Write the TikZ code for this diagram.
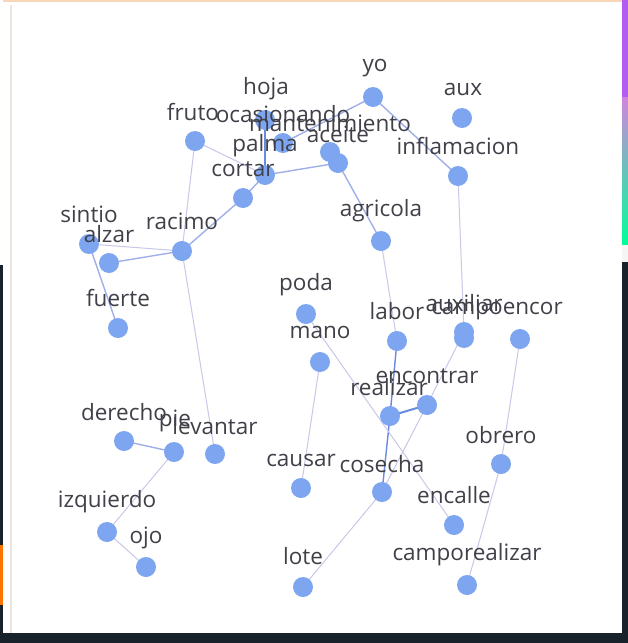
\documentclass[tikz,border=0pt]{standalone}
\usepackage{fontspec}
\setmainfont{Open Sans}
\definecolor{bgdark}{HTML}{17222B}
\definecolor{nodeblue}{RGB}{125,165,240}
\definecolor{edgelight}{RGB}{200,200,232}
\definecolor{edgemid}{RGB}{160,175,232}
\definecolor{edgedark}{RGB}{105,138,228}
\definecolor{labelgray}{HTML}{404049}
\definecolor{purp}{HTML}{B35CF2}
\definecolor{topline}{HTML}{F8D6B8}
\definecolor{leftline}{HTML}{EEE5DF}
\tikzset{
  vert/.style={circle,fill=nodeblue,inner sep=0pt,minimum size=20pt},
  lbl/.style={text=labelgray,font=\fontsize{22.5}{22.5}\selectfont,inner sep=0pt},
  elight/.style={draw=edgelight,line width=1pt},
  emid/.style={draw=edgemid,line width=1.4pt},
  edark/.style={draw=edgedark,line width=2pt},
}
\begin{document}
\begin{tikzpicture}[x=1pt,y=-1pt]
\useasboundingbox (0,0) rectangle (628,643);
% background
\fill[bgdark] (0,0) rectangle (628,643);
\fill[white] (0,0) rectangle (3,265);
\fill[orange!90!red] (0,545) rectangle (3,605);
\fill[purp] (622,0) rectangle (628,97);
\shade[top color=purp!60!pink,bottom color=green!40!cyan] (622,97) rectangle (628,245);
\fill[white!92!gray] (622,245) rectangle (628,262);
\fill[white] (3,0) rectangle (622,633);
\fill[topline] (3,0) rectangle (622,2);
\fill[leftline] (10,5) rectangle (12,633);
% vertices
\coordinate (yo) at (373,97);
\coordinate (aux) at (462,118);
\coordinate (hoja) at (265,120);
\coordinate (fruto) at (195,141);
\coordinate (ocasionando) at (283,143);
\coordinate (mantenimiento) at (330,152);
\coordinate (aceite) at (338,163);
\coordinate (palma) at (265,175);
\coordinate (cortar) at (243,198);
\coordinate (inflamacion) at (458,176);
\coordinate (agricola) at (381,241);
\coordinate (sintio) at (89,244);
\coordinate (alzar) at (109,263);
\coordinate (racimo) at (182,251);
\coordinate (fuerte) at (118,328);
\coordinate (poda) at (306,314);
\coordinate (mano) at (320,362);
\coordinate (labor) at (397,341);
\coordinate (auxiliar) at (464,332);
\coordinate (campo) at (464,338);
\coordinate (encor) at (520,339);
\coordinate (encontrar) at (427,405);
\coordinate (realizar) at (390,416);
\coordinate (derecho) at (124,441);
\coordinate (pie) at (174,452);
\coordinate (levantar) at (215,454);
\coordinate (obrero) at (501,464);
\coordinate (causar) at (301,488);
\coordinate (cosecha) at (382,492);
\coordinate (encalle) at (454,525);
\coordinate (izquierdo) at (107,532);
\coordinate (ojo) at (146,567);
\coordinate (lote) at (303,587);
\coordinate (camporealizar) at (467,585);
% edges
\draw[elight] (fruto) -- (palma);
\draw[elight] (fruto) -- (racimo);
\draw[elight] (racimo) -- (levantar);
\draw[emid] (racimo) -- (cortar);
\draw[emid] (cortar) -- (palma);
\draw[emid] (palma) -- (aceite);
\draw[edark] (hoja) -- (palma);
\draw[emid] (ocasionando) -- (yo);
\draw[emid] (yo) -- (inflamacion);
\draw[emid] (aceite) -- (agricola);
\draw[elight] (agricola) -- (labor);
\draw[edark,line width=1.4pt] (labor) -- (realizar);
\draw[edark,line width=1.4pt] (realizar) -- (cosecha);
\draw[edark] (realizar) -- (encontrar);
\draw[elight] (encontrar) -- (auxiliar);
\draw[elight] (encontrar) -- (cosecha);
\draw[elight] (inflamacion) -- (auxiliar);
\draw[elight] (poda) -- (encalle);
\draw[elight] (mano) -- (causar);
\draw[elight] (cosecha) -- (lote);
\draw[elight] (encor) -- (obrero);
\draw[elight] (obrero) -- (camporealizar);
\draw[emid] (derecho) -- (pie);
\draw[elight] (pie) -- (izquierdo);
\draw[elight] (izquierdo) -- (ojo);
\draw[elight] (sintio) -- (racimo);
\draw[emid] (alzar) -- (racimo);
\draw[emid] (sintio) -- (fuerte);
% nodes
\foreach \n in {yo,aux,hoja,fruto,ocasionando,mantenimiento,aceite,palma,cortar,inflamacion,agricola,sintio,alzar,racimo,fuerte,poda,mano,labor,auxiliar,campo,encor,encontrar,realizar,derecho,pie,levantar,obrero,causar,cosecha,encalle,izquierdo,ojo,lote,camporealizar}
  \node[vert] (v-\n) at (\n) {};
% labels
\node[lbl] (l-yo) at (375,68) {yo};
\node[lbl] (l-aux) at (463,89) {aux};
\node[lbl] (l-hoja) at (266,89) {hoja};
\node[lbl] (l-fruto) at (193,112) {fruto};
\node[lbl] (l-ocasionando) at (283,114) {ocasionando};
\node[lbl] (l-mantenimiento) at (330,123) {mantenimiento};
\node[lbl] (l-aceite) at (338,134) {aceite};
\node[lbl] (l-palma) at (265,146) {palma};
\node[lbl] (l-cortar) at (243,169) {cortar};
\node[lbl] (l-inflamacion) at (458,146) {inflamacion};
\node[lbl] (l-agricola) at (381,211) {agricola};
\node[lbl] (l-sintio) at (89,214) {sintio};
\node[lbl] (l-alzar) at (109,234) {alzar};
\node[lbl] (l-racimo) at (182,221) {racimo};
\node[lbl] (l-fuerte) at (118,298) {fuerte};
\node[lbl] (l-poda) at (306,285) {poda};
\node[lbl] (l-mano) at (320,332) {mano};
\node[lbl] (l-labor) at (397,311) {labor};
\node[lbl] (l-auxiliar) at (464,303) {auxiliar};
\node[lbl] (l-campoencor) at (497,311) {campoencor};
\node[lbl] (l-encontrar) at (427,376) {encontrar};
\node[lbl] (l-realizar) at (389,387) {realizar};
\node[lbl] (l-derecho) at (124,412) {derecho};
\node[lbl] (l-pie) at (175,421) {pie};
\node[lbl] (l-levantar) at (215,426) {levantar};
\node[lbl] (l-obrero) at (501,435) {obrero};
\node[lbl] (l-causar) at (301,460) {causar};
\node[lbl] (l-cosecha) at (382,464) {cosecha};
\node[lbl] (l-encalle) at (454,495) {encalle};
\node[lbl] (l-izquierdo) at (107,502) {izquierdo};
\node[lbl] (l-ojo) at (146,538) {ojo};
\node[lbl] (l-lote) at (303,556) {lote};
\node[lbl] (l-camporealizar) at (467,555) {camporealizar};
\end{tikzpicture}
\end{document}
